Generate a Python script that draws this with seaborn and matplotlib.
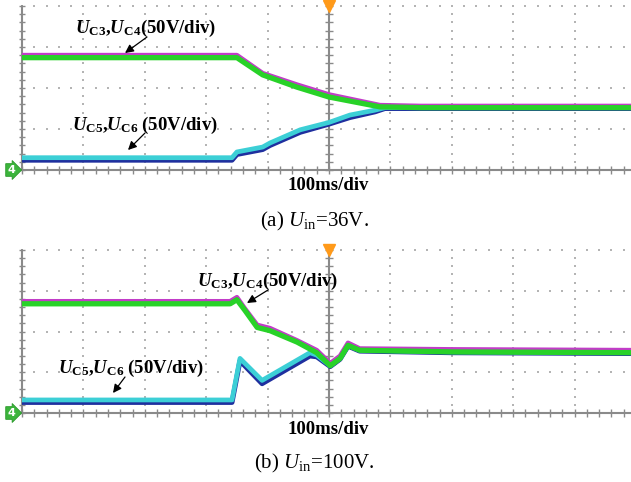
import numpy as np
import pandas as pd
import matplotlib
matplotlib.use("Agg")
import matplotlib.pyplot as plt
import seaborn as sns

# ---------------- data (time in ms, voltage in V) ----------------
t_a_c34 = [0, 350, 392, 448, 500, 583, 650, 800, 1000]
uc3_a = [140, 140, 118, 104, 92, 79, 78, 78, 78]
uc4_a = [137, 137, 116, 101, 89, 77, 76, 76, 76]
t_a_c56 = [0, 342, 350, 392, 404, 453, 500, 534, 575, 591, 650, 800, 1000]
uc5_a = [15, 15, 22, 28, 33, 49, 58, 67, 73, 76, 76, 76, 76]
uc6_a = [12, 12, 19, 25, 30, 46, 56, 64, 71, 75, 75, 75, 75]

t_b_c34 = [0, 339, 350, 363, 383, 404, 448, 480, 502, 518, 531, 550, 700, 1000]
uc3_b = [137, 137, 142, 128, 108, 104, 89, 77, 61, 70, 86, 79, 78, 77]
uc4_b = [134, 134, 139, 126, 105, 101, 87, 74, 58, 67, 83, 77, 75, 74]
t_b_c56 = [0, 342, 355, 391, 469, 480, 502, 518, 531, 550, 700, 1000]
uc5_b = [16, 16, 67, 40, 74, 71, 58, 67, 83, 77, 75, 74]
uc6_b = [13, 13, 64, 36, 70, 69, 57, 66, 82, 76, 74, 73]

captions = ["(a) $\\mathit{U}_{\\mathrm{in}}$=36V.", "(b) $\\mathit{U}_{\\mathrm{in}}$=100V."]
label34 = "$\\mathbfit{U}_{\\mathbf{C3}}$,$\\mathbfit{U}_{\\mathbf{C4}}$(50V/div)"
label56 = "$\\mathbfit{U}_{\\mathbf{C5}}$,$\\mathbfit{U}_{\\mathbf{C6}}$ (50V/div)"
time_label = "100ms/div"

# ---------------- style ----------------
sns.set_style("white")
plt.rcParams["font.family"] = ["Liberation Serif", "DejaVu Serif"]
plt.rcParams["mathtext.fontset"] = "custom"
plt.rcParams["mathtext.rm"] = "Liberation Serif"
plt.rcParams["mathtext.it"] = "Liberation Serif:italic"
plt.rcParams["mathtext.bf"] = "Liberation Serif:bold"
plt.rcParams["mathtext.bfit"] = "Liberation Serif:italic:bold"

W, H = 631, 482
fig = plt.figure(figsize=(W / 100, H / 100), dpi=100)

def fx(px):
    return px / W

def fy(py):
    return 1 - py / H

GRAY = "#8a8a8a"
DOT = "#b4b4b4"
C_MAG = "#c23cc8"
C_GRN = "#28d228"
C_BLU = "#1f2f9e"
C_CYN = "#3ccfd6"

def make_axes(top_px, bottom_px):
    ax = fig.add_axes([fx(22), fy(bottom_px), fx(614), (bottom_px - top_px) / H])
    ax.set_xlim(0, 1000)
    ax.set_ylim(0, 200)
    ax.axis("off")
    # dotted grid (dots at minor subdivisions)
    xs_minor = np.arange(0, 1001, 20)
    ys_minor = np.arange(0, 201, 10)
    for yv in [50, 100, 150, 200]:
        ax.scatter(xs_minor, np.full_like(xs_minor, yv, dtype=float), s=1.6,
                   color=DOT, marker="s", linewidths=0, clip_on=False, zorder=1)
    for xv in [100, 200, 300, 400, 600, 700, 800, 900]:
        ax.scatter(np.full_like(ys_minor, xv, dtype=float), ys_minor, s=1.6,
                   color=DOT, marker="s", linewidths=0, clip_on=False, zorder=1)
    # centre vertical axis, bottom axis, left edge
    ax.plot([500, 500], [0, 200], color=GRAY, lw=1.5, zorder=2, clip_on=False)
    ax.plot([0, 1000], [0, 0], color=GRAY, lw=1.5, zorder=2, clip_on=False)
    ax.plot([0, 0], [0, 200], color=GRAY, lw=1.5, zorder=2, clip_on=False)
    ax.scatter(np.full_like(ys_minor, 500, dtype=float), ys_minor, marker="_", s=30,
               color=GRAY, linewidths=1.0, zorder=2, clip_on=False)
    ax.scatter(np.full_like(ys_minor, 0, dtype=float), ys_minor, marker="_", s=14,
               color=GRAY, linewidths=1.0, zorder=2, clip_on=False)
    ax.scatter(xs_minor, np.zeros_like(xs_minor, dtype=float), marker="|", s=30,
               color=GRAY, linewidths=1.0, zorder=2, clip_on=False)
    # trigger marker
    ax.plot([500], [200], marker="v", color="#ff9a1a", markersize=8, clip_on=False, zorder=5)
    return ax

def draw_traces(ax, t34, u3, u4, t56, u5, u6):
    d34 = pd.DataFrame({"t": t34, "u3": u3, "u4": u4})
    d56 = pd.DataFrame({"t": t56, "u5": u5, "u6": u6})
    sns.lineplot(data=d56, x="t", y="u6", ax=ax, color=C_BLU, lw=3.6, zorder=3, estimator=None)
    sns.lineplot(data=d56, x="t", y="u5", ax=ax, color=C_CYN, lw=3.4, zorder=3.1, estimator=None)
    sns.lineplot(data=d34, x="t", y="u3", ax=ax, color=C_MAG, lw=3.4, zorder=3.2, estimator=None)
    sns.lineplot(data=d34, x="t", y="u4", ax=ax, color=C_GRN, lw=3.8, zorder=3.3, estimator=None)
    ax.set_xlim(0, 1000)
    ax.set_ylim(0, 200)
    ax.axis("off")

ax1 = make_axes(6, 170)
draw_traces(ax1, t_a_c34, uc3_a, uc4_a, t_a_c56, uc5_a, uc6_a)
ax2 = make_axes(250, 413)
draw_traces(ax2, t_b_c34, uc3_b, uc4_b, t_b_c56, uc5_b, uc6_b)

LBL_FS = 13.5

def label(px, py, s, ha="left", fs=LBL_FS, weight="bold"):
    fig.text(fx(px), fy(py), s, ha=ha, va="center", fontsize=fs, fontweight=weight,
             color="black")

def arrow(x0, y0, x1, y1):
    fig.add_artist(matplotlib.patches.FancyArrowPatch(
        (fx(x0), fy(y0)), (fx(x1), fy(y1)), transform=fig.transFigure,
        arrowstyle="-|>,head_length=5,head_width=2.5", color="black", lw=0.9,
        shrinkA=0, shrinkB=0, zorder=10))

def ground_marker(py):
    fig.text(fx(11), fy(py), "4", ha="center", va="center", fontsize=8,
             fontweight="bold", color="white", family="DejaVu Sans",
             bbox=dict(boxstyle="rarrow,pad=0.12", fc="#3cb43c", ec="#2a9a2a", lw=0.6))

# panel (a)
label(75, 28, label34)
arrow(147, 37, 125, 53)
label(72, 125, label56)
arrow(145, 133, 128, 150)
label(328, 186, time_label, ha="center")
label(314, 221, captions[0], ha="center", fs=15, weight="normal")
ground_marker(170)

# panel (b)
label(197, 281, label34)
arrow(268, 290, 247, 303)
label(58, 368, label56)
arrow(125, 377, 113, 393)
label(328, 429, time_label, ha="center")
label(314, 463, captions[1], ha="center", fs=15, weight="normal")
ground_marker(413)

fig.savefig("out.png", dpi=100)
